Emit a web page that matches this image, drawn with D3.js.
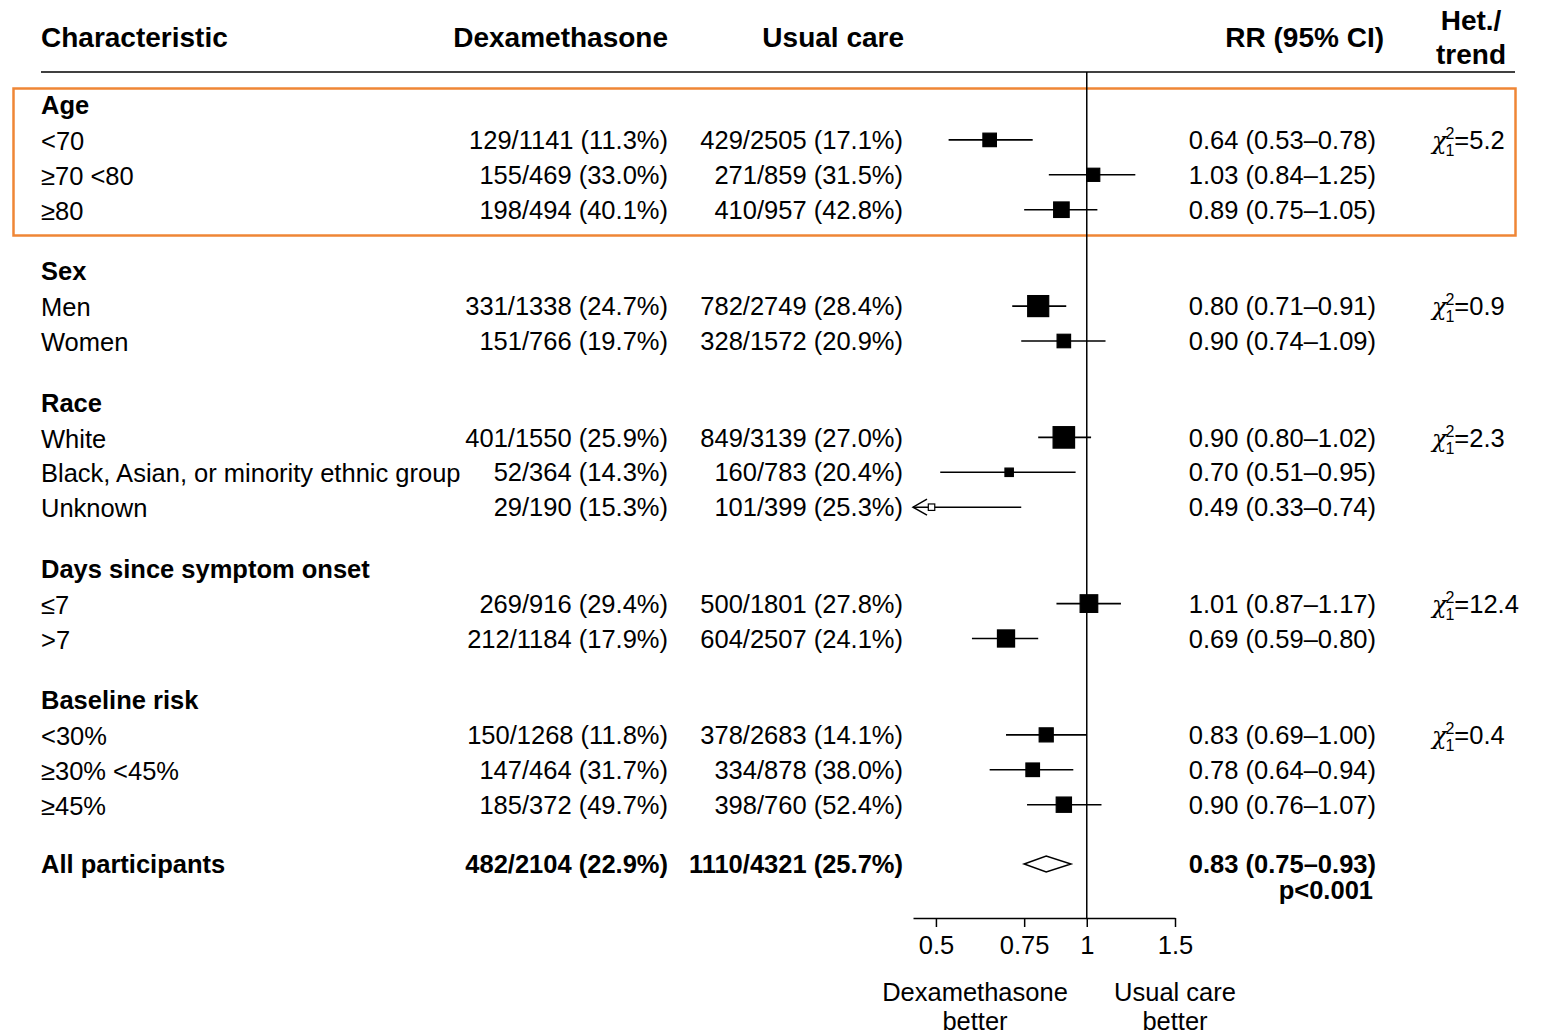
<!DOCTYPE html>
<html>
<head>
<meta charset="utf-8">
<script src="https://cdn.jsdelivr.net/npm/d3@7"></script>
<style>
  body { margin: 0; background: #fff; }
  svg { display: block; font-family: "Liberation Sans", Arial, Helvetica, sans-serif; }
  .reg { font-size: 25.5px; }
  .head { font-size: 28px; font-weight: bold; }
  .grp { font-size: 25.5px; font-weight: bold; }
</style>
</head>
<body>
<script>
// subgroups
const groups = ["Age", "Sex", "Race", "Days since symptom onset", "Baseline risk"];
const groupOf = [0, 0, 0, 1, 1, 2, 2, 2, 3, 3, 4, 4, 4];
const labels = ["<70", "\u226570 <80", "\u226580", "Men", "Women", "White",
  "Black, Asian, or minority ethnic group", "Unknown", "\u22647", ">7",
  "<30%", "\u226530% <45%", "\u226545%"];
const dexa = ["129/1141 (11.3%)", "155/469 (33.0%)", "198/494 (40.1%)", "331/1338 (24.7%)",
  "151/766 (19.7%)", "401/1550 (25.9%)", "52/364 (14.3%)", "29/190 (15.3%)", "269/916 (29.4%)",
  "212/1184 (17.9%)", "150/1268 (11.8%)", "147/464 (31.7%)", "185/372 (49.7%)"];
const usual = ["429/2505 (17.1%)", "271/859 (31.5%)", "410/957 (42.8%)", "782/2749 (28.4%)",
  "328/1572 (20.9%)", "849/3139 (27.0%)", "160/783 (20.4%)", "101/399 (25.3%)", "500/1801 (27.8%)",
  "604/2507 (24.1%)", "378/2683 (14.1%)", "334/878 (38.0%)", "398/760 (52.4%)"];
const rr = [0.64, 1.03, 0.89, 0.80, 0.90, 0.90, 0.70, 0.49, 1.01, 0.69, 0.83, 0.78, 0.90];
const lo = [0.53, 0.84, 0.75, 0.71, 0.74, 0.80, 0.51, 0.33, 0.87, 0.59, 0.69, 0.64, 0.76];
const hi = [0.78, 1.25, 1.05, 0.91, 1.09, 1.02, 0.95, 0.74, 1.17, 0.80, 1.00, 0.94, 1.07];
const het = ["5.2", "0.9", "2.3", "12.4", "0.4"];

// overall
const allLabel = "All participants";
const allDexa = "482/2104 (22.9%)";
const allUsual = "1110/4321 (25.7%)";
const allRR = [0.83, 0.75, 0.93];
const allP = "p<0.001";

const tickVals = [0.5, 0.75, 1, 1.5];

const fmt = d3.format(".2f");
const svg = d3.select("body").append("svg").attr("width", 1547).attr("height", 1034);

const x = d3.scaleLog().domain([0.45, 1.5]).range([913, 1175]);
const y = d3.scaleLinear().domain([0, 1]).range([105, 139.9]);
const side = d3.scaleSqrt().domain([0, 100]).range([0, 13.3]);

// work out row slots: header, items, then a bigger gap before the next group
const rows = [];
const heads = [];
let slot = 0;
groups.forEach((g, gi) => {
  heads.push({ name: g, slot: slot, het: het[gi] });
  slot += 1;
  groupOf.forEach((k, i) => {
    if (k !== gi) return;
    const se = (Math.log(hi[i]) - Math.log(lo[i])) / (2 * 1.96);
    rows.push({ i, slot, w: 1 / (se * se) });
    slot += 1;
  });
  slot += 0.762;
});

const colDex = 668, colUsual = 903, colRR = 1376, colChi = 1432;

// column headers
svg.append("text").attr("class", "head").attr("x", 41).attr("y", 37).attr("dy", "0.36em").text("Characteristic");
svg.append("text").attr("class", "head").attr("x", colDex).attr("y", 37).attr("dy", "0.36em").attr("text-anchor", "end").text("Dexamethasone");
svg.append("text").attr("class", "head").attr("x", 904).attr("y", 37).attr("dy", "0.36em").attr("text-anchor", "end").text("Usual care");
svg.append("text").attr("class", "head").attr("x", 1384).attr("y", 37).attr("dy", "0.36em").attr("text-anchor", "end").text("RR (95% CI)");
svg.append("text").attr("class", "head").attr("x", 1471).attr("y", 20).attr("dy", "0.36em").attr("text-anchor", "middle").text("Het./");
svg.append("text").attr("class", "head").attr("x", 1471).attr("y", 54).attr("dy", "0.36em").attr("text-anchor", "middle").text("trend");

svg.append("line").attr("x1", 41).attr("x2", 1515).attr("y1", 72).attr("y2", 72)
  .attr("stroke", "#000").attr("stroke-width", 1.5);

// highlight box round the age rows
svg.append("rect").attr("x", 13.5).attr("y", 88.5).attr("width", 1502).attr("height", 147)
  .attr("fill", "none").attr("stroke", "#ef8636").attr("stroke-width", 2.5);

// reference line at RR = 1
svg.append("line").attr("x1", x(1)).attr("x2", x(1)).attr("y1", 72).attr("y2", 918)
  .attr("stroke", "#000").attr("stroke-width", 1.5);

// group headers + heterogeneity
heads.forEach((h) => {
  svg.append("text").attr("class", "grp").attr("x", 41).attr("y", y(h.slot)).attr("dy", "0.36em").text(h.name);
  const t = svg.append("text").attr("class", "reg").attr("x", colChi).attr("y", y(h.slot + 1)).attr("dy", "0.36em");
  t.append("tspan").attr("font-family", "DejaVu Serif").attr("font-style", "italic").attr("font-size", 24).text("\u03c7");
  t.append("tspan").attr("font-size", 16).attr("dx", -1).attr("dy", -10).text("2");
  t.append("tspan").attr("font-size", 16).attr("dx", -9).attr("dy", 17).text("1");
  t.append("tspan").attr("dy", -7).text("=" + h.het);
});

const rowG = svg.selectAll("g.row").data(rows).enter().append("g").attr("class", "row");

rowG.append("text").attr("class", "reg").attr("x", 41).attr("y", (d) => y(d.slot) + 1).attr("dy", "0.36em")
  .text((d) => labels[d.i]);
rowG.append("text").attr("class", "reg").attr("x", colDex).attr("y", (d) => y(d.slot)).attr("dy", "0.36em")
  .attr("text-anchor", "end").text((d) => dexa[d.i]);
rowG.append("text").attr("class", "reg").attr("x", colUsual).attr("y", (d) => y(d.slot)).attr("dy", "0.36em")
  .attr("text-anchor", "end").text((d) => usual[d.i]);
rowG.append("text").attr("class", "reg").attr("x", colRR).attr("y", (d) => y(d.slot)).attr("dy", "0.36em")
  .attr("text-anchor", "end")
  .text((d) => `${fmt(rr[d.i])} (${fmt(lo[d.i])}\u2013${fmt(hi[d.i])})`);

// confidence intervals
const xMin = x.domain()[0];
rowG.append("line")
  .attr("x1", (d) => x(Math.max(lo[d.i], xMin)))
  .attr("x2", (d) => x(hi[d.i]))
  .attr("y1", (d) => y(d.slot)).attr("y2", (d) => y(d.slot))
  .attr("stroke", "#000").attr("stroke-width", 1.6);

// arrow where the CI runs off the axis
rowG.filter((d) => lo[d.i] < xMin).append("path")
  .attr("d", (d) => {
    const x0 = x(xMin), yy = y(d.slot);
    return `M${x0 + 14},${yy - 8}L${x0},${yy}L${x0 + 14},${yy + 8}`;
  })
  .attr("fill", "none").attr("stroke", "#000").attr("stroke-width", 1.5);

rowG.append("rect")
  .attr("x", (d) => x(rr[d.i]) - side(d.w) / 2)
  .attr("y", (d) => y(d.slot) - side(d.w) / 2)
  .attr("width", (d) => side(d.w))
  .attr("height", (d) => side(d.w))
  .attr("fill", (d) => (lo[d.i] < xMin ? "#fff" : "#000"))
  .attr("stroke", "#000").attr("stroke-width", 1.2);

// all participants
const yAll = y(slot - 0.06);
svg.append("text").attr("class", "grp").attr("x", 41).attr("y", yAll).attr("dy", "0.36em").text(allLabel);
svg.append("text").attr("class", "grp").attr("x", colDex).attr("y", yAll).attr("dy", "0.36em").attr("text-anchor", "end").text(allDexa);
svg.append("text").attr("class", "grp").attr("x", colUsual).attr("y", yAll).attr("dy", "0.36em").attr("text-anchor", "end").text(allUsual);
svg.append("text").attr("class", "grp").attr("x", colRR).attr("y", yAll).attr("dy", "0.36em").attr("text-anchor", "end")
  .text(`${fmt(allRR[0])} (${fmt(allRR[1])}\u2013${fmt(allRR[2])})`);
svg.append("text").attr("class", "grp").attr("x", 1373).attr("y", yAll + 26).attr("dy", "0.36em").attr("text-anchor", "end").text(allP);

svg.append("path")
  .attr("d", `M${x(allRR[1])},${yAll}L${x(allRR[0])},${yAll - 8}L${x(allRR[2])},${yAll}L${x(allRR[0])},${yAll + 8}Z`)
  .attr("fill", "#fff").attr("stroke", "#000").attr("stroke-width", 1.5);

// axis
const axis = svg.append("g").attr("transform", "translate(0,918)")
  .call(d3.axisBottom(x).tickValues(tickVals).tickFormat((d) => String(d)).tickSize(9).tickSizeOuter(0).tickPadding(9));
axis.select(".domain").attr("stroke-width", 1.5);
axis.selectAll(".tick line").attr("stroke-width", 1.5);
axis.selectAll(".tick text").attr("font-size", 25.5).attr("font-family", "Liberation Sans, Arial, sans-serif").attr("fill", "#000");

const notes = [["Dexamethasone", "better", 975], ["Usual care", "better", 1175]];
notes.forEach((n) => {
  svg.append("text").attr("class", "reg").attr("x", n[2]).attr("y", 992).attr("dy", "0.36em").attr("text-anchor", "middle").text(n[0]);
  svg.append("text").attr("class", "reg").attr("x", n[2]).attr("y", 1021).attr("dy", "0.36em").attr("text-anchor", "middle").text(n[1]);
});
</script>
</body>
</html>
